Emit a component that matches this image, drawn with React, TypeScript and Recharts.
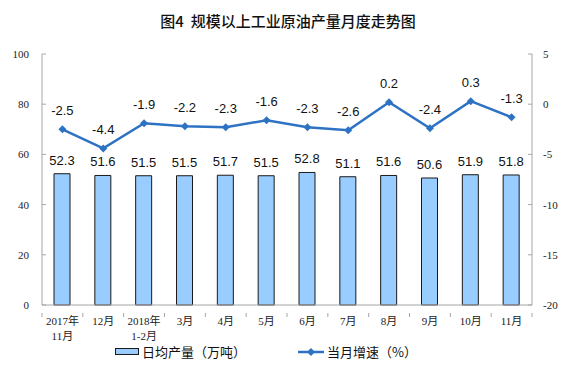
import React from 'react';
import { ComposedChart, Bar, Line, XAxis, YAxis, LabelList } from 'recharts';

const categories = ['2017年\n11月', '12月', '2018年\n1-2月', '3月', '4月', '5月', '6月', '7月', '8月', '9月', '10月', '11月'];
const output = [52.3, 51.6, 51.5, 51.5, 51.7, 51.5, 52.8, 51.1, 51.6, 50.6, 51.9, 51.8];
const growth = [-2.5, -4.4, -1.9, -2.2, -2.3, -1.6, -2.3, -2.6, 0.2, -2.4, 0.3, -1.3];
const leftTicks = [0, 20, 40, 60, 80, 100];
const rightTicks = [-20, -15, -10, -5, 0, 5];

const data = categories.map((c, i) => ({ name: c, output: output[i], growth: growth[i] }));

const AXIS = '#A6A6A6';
const LINE = '#2E72C4';
const SERIF = '"Liberation Serif", "Noto Sans CJK SC", serif';
const SANS = '"Liberation Sans", Arial, sans-serif';
const BAND = 490 / 12;

const LeftTick = (props: any) => {
  const { x, y, payload } = props;
  return (
    <g>
      <line x1={x} x2={x + 4} y1={y} y2={y} stroke={AXIS} />
      <text x={x - 13} y={y} dy={4} textAnchor="end" fontFamily={SERIF} fontSize={11} fill="#222">{payload.value}</text>
    </g>
  );
};

const RightTick = (props: any) => {
  const { x, y, payload } = props;
  return (
    <g>
      <line x1={x - 4} x2={x} y1={y} y2={y} stroke={AXIS} />
      <text x={x + 11} y={y} dy={4} textAnchor="start" fontFamily={SERIF} fontSize={11} fill="#222">{payload.value}</text>
    </g>
  );
};

const XTick = (props: any) => {
  const { x, y, payload, index } = props;
  const lines = String(payload.value).split('\n');
  return (
    <g>
      <line x1={x - BAND / 2} x2={x - BAND / 2} y1={y} y2={y + 4} stroke={AXIS} />
      {index === categories.length - 1 && (
        <line x1={x + BAND / 2} x2={x + BAND / 2} y1={y} y2={y + 4} stroke={AXIS} />
      )}
      {lines.map((l, i) => (
        <text key={i} x={x} y={y + 8 + i * 15} dy={4} textAnchor="middle" fontFamily={SERIF} fontSize={11} fill="#222">{l}</text>
      ))}
    </g>
  );
};

const Diamond = (props: any) => {
  const { cx, cy } = props;
  if (cx == null || cy == null) return null;
  const s = 4;
  return <path d={`M${cx},${cy - s}L${cx + s},${cy}L${cx},${cy + s}L${cx - s},${cy}Z`} fill={LINE} />;
};

export default function App() {
  return (
    <div style={{ position: 'absolute', left: 0, top: 0, width: 576, height: 384, background: '#fff' }}>
      <div style={{ position: 'absolute', top: 10, left: 0, width: 576, textAlign: 'center', fontFamily: '"Noto Sans CJK SC", sans-serif', fontSize: 15, fontWeight: 500, color: '#111' }}>
        图4&nbsp;&nbsp;规模以上工业原油产量月度走势图
      </div>
      <ComposedChart width={576} height={384} data={data} margin={{ top: 54, right: 0, left: 0, bottom: 39 }}>
        <XAxis dataKey="name" interval={0} tickLine={false} stroke={AXIS} tick={<XTick />} height={40} />
        <YAxis yAxisId="l" domain={[0, 100]} ticks={leftTicks} width={42} stroke={AXIS} tickLine={false} tickSize={0} tickMargin={0} tick={<LeftTick />} />
        <YAxis yAxisId="r" orientation="right" domain={[-20, 5]} ticks={rightTicks} width={44} stroke={AXIS} tickLine={false} tickSize={0} tickMargin={0} tick={<RightTick />} />
        <Bar yAxisId="l" dataKey="output" barSize={16} fill="#99CCFF" stroke="#1a1a1a" strokeWidth={1} isAnimationActive={false}>
          <LabelList dataKey="output" position="top" offset={9} fontFamily={SANS} fontSize={13} fill="#111" />
        </Bar>
        <Line yAxisId="r" dataKey="growth" stroke={LINE} strokeWidth={2.5} dot={<Diamond />} activeDot={false} isAnimationActive={false}>
          <LabelList dataKey="growth" position="top" offset={14} fontFamily={SANS} fontSize={13} fill="#111" />
        </Line>
      </ComposedChart>
      <div style={{ position: 'absolute', top: 342, left: 115, display: 'flex', alignItems: 'center', fontFamily: '"Noto Sans CJK SC", sans-serif', fontSize: 13, color: '#111' }}>
        <div style={{ width: 22, height: 5, background: '#99CCFF', border: '1.5px solid #1a1a1a', marginRight: 3 }} />
        日均产量（万吨）
      </div>
      <div style={{ position: 'absolute', top: 342, left: 298, display: 'flex', alignItems: 'center', fontFamily: '"Noto Sans CJK SC", sans-serif', fontSize: 13, color: '#111' }}>
        <svg width={26} height={10} style={{ marginRight: 3 }}>
          <line x1={0} x2={26} y1={5} y2={5} stroke={LINE} strokeWidth={2.5} />
          <path d="M13,1L17,5L13,9L9,5Z" fill={LINE} />
        </svg>
        当月增速（%）
      </div>
    </div>
  );
}
